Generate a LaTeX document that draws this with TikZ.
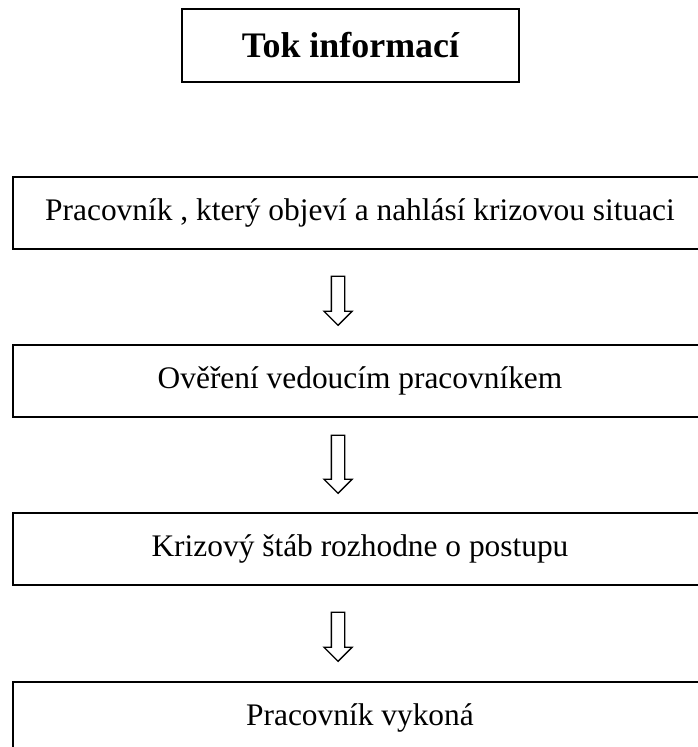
\documentclass[tikz,border=0pt]{standalone}
\usepackage{fontspec}
\setmainfont{Liberation Serif}
\usepackage{tikz}
\usetikzlibrary{shapes,arrows,calc,positioning}
\newcommand{\txt}{\fontsize{31.4}{37}\selectfont}
\newcommand{\ttl}{\fontsize{35.9}{42}\selectfont\bfseries}

\begin{document}
\begin{tikzpicture}[x=1pt,y=-1pt,node distance=168pt]
                    \clip (0,0) rectangle (698,747);
                    \tikzset{krok/.style={rectangle,draw,line width=2pt,minimum width=694pt,minimum height=72pt,inner sep=0pt},
                        sipka/.style={single arrow,draw,line width=1.3pt,rotate=-90,inner sep=6pt,single arrow head extend=7.5pt,single arrow head indent=0pt}}
                    \node[rectangle,draw,line width=2pt,minimum width=337pt,minimum height=73pt](tok) at (350.5,45.5){\ttl Tok informací};
                    \node[krok](b1) at (360,213){\txt Pracovník , který objeví a nahlásí krizovou situaci};
                    \node[krok,below of=b1](b2){\txt Ověření vedoucím pracovníkem};
                    \node[krok,below of=b2](b3){\txt Krizový štáb rozhodne o postupu};
                    \node[krok,below of=b3,yshift=-1pt](b4){\txt Pracovník vykoná};
                    % sipky mezi kroky
                    \node[sipka,minimum height=49pt](s1) at (338,297.5){};
                    \node[sipka,minimum height=58pt](s2) at (338,461){};
                    \node[sipka,minimum height=49pt](s3) at (338,633.5){};
                \end{tikzpicture}
\end{document}
